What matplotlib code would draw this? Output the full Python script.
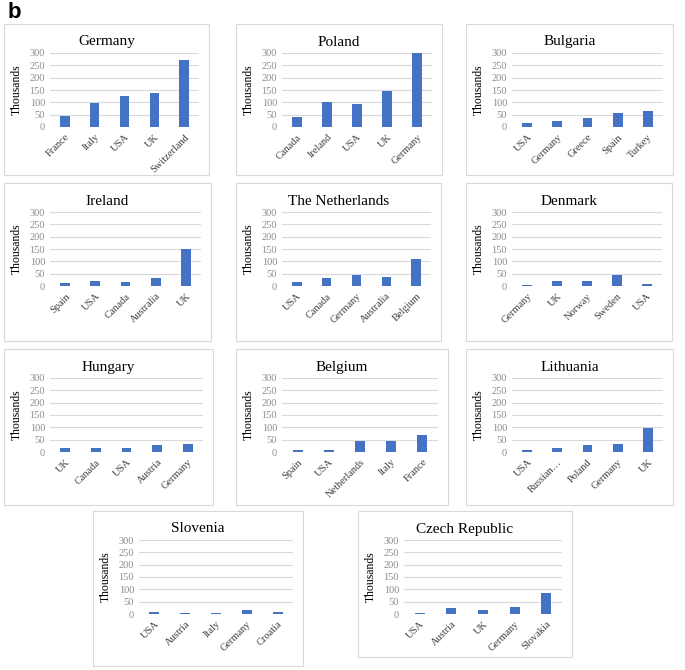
import matplotlib.pyplot as plt
from matplotlib.patches import Rectangle

plt.rcParams['font.family'] = ['Liberation Serif', 'DejaVu Serif']

W, H = 685, 670

# data (thousands)
germany_cats = ['France', 'Italy', 'USA', 'UK', 'Switzerland']
germany_vals = [43, 96, 125, 137, 272]
poland_cats = ['Canada', 'Ireland', 'USA', 'UK', 'Germany']
poland_vals = [40, 103, 93, 147, 302]
bulgaria_cats = ['USA', 'Germany', 'Greece', 'Spain', 'Turkey']
bulgaria_vals = [17, 25, 37, 58, 66]
ireland_cats = ['Spain', 'USA', 'Canada', 'Australia', 'UK']
ireland_vals = [13, 19, 16, 31, 152]
netherlands_cats = ['USA', 'Canada', 'Germany', 'Australia', 'Belgium']
netherlands_vals = [16, 34, 46, 37, 110]
denmark_cats = ['Germany', 'UK', 'Norway', 'Sweden', 'USA']
denmark_vals = [4, 19, 22, 43, 8]
hungary_cats = ['UK', 'Canada', 'USA', 'Austria', 'Germany']
hungary_vals = [15, 18, 18, 28, 31]
belgium_cats = ['Spain', 'USA', 'Netherlands', 'Italy', 'France']
belgium_vals = [10, 10, 43, 43, 67]
lithuania_cats = ['USA', 'Russian…', 'Poland', 'Germany', 'UK']
lithuania_vals = [10, 16, 27, 31, 96]
slovenia_cats = ['USA', 'Austria', 'Italy', 'Germany', 'Croatia']
slovenia_vals = [7, 6, 6, 15, 9]
czech_cats = ['USA', 'Austria', 'UK', 'Germany', 'Slovakia']
czech_vals = [6, 25, 16, 28, 84]

yticks = [0, 50, 100, 150, 200, 250, 300]

# name, categories, values, box in pixels (x0, y0, x1, y1)
panels = [
    ('Germany', germany_cats, germany_vals, (4, 24, 209, 175)),
    ('Poland', poland_cats, poland_vals, (236, 24, 442, 175)),
    ('Bulgaria', bulgaria_cats, bulgaria_vals, (466, 24, 673, 175)),
    ('Ireland', ireland_cats, ireland_vals, (4, 183, 211, 341)),
    ('The Netherlands', netherlands_cats, netherlands_vals, (236, 183, 441, 341)),
    ('Denmark', denmark_cats, denmark_vals, (466, 183, 672, 341)),
    ('Hungary', hungary_cats, hungary_vals, (4, 349, 213, 505)),
    ('Belgium', belgium_cats, belgium_vals, (236, 349, 448, 505)),
    ('Lithuania', lithuania_cats, lithuania_vals, (466, 349, 673, 505)),
    ('Slovenia', slovenia_cats, slovenia_vals, (93, 511, 303, 666)),
    ('Czech Republic', czech_cats, czech_vals, (358, 511, 572, 657)),
]

fig = plt.figure(figsize=(W / 100, H / 100), dpi=100)

for name, cats, vals, (x0, y0, x1, y1) in panels:
    # panel frame
    fig.patches.append(Rectangle((x0 / W, 1 - y1 / H), (x1 - x0) / W, (y1 - y0) / H,
                                 transform=fig.transFigure, fill=False,
                                 edgecolor='#d9d9d9', linewidth=0.8))
    left, right = x0 + 46, x1 - 10
    top, bottom = y0 + 29, y0 + 103
    ax = fig.add_axes([left / W, 1 - bottom / H, (right - left) / W, (bottom - top) / H])
    ax.bar(range(len(cats)), vals, width=0.32, color='#4472c4', zorder=3)
    ax.set_xlim(-0.5, len(cats) - 0.5)
    ax.set_ylim(0, 300)
    ax.set_yticks(yticks)
    ax.set_yticklabels([str(t) for t in yticks], fontsize=7.5, color='#8c8c8c')
    ax.set_xticks(range(len(cats)))
    ax.set_xticklabels(cats, fontsize=7.5, color='#404040', rotation=45,
                       ha='right', rotation_mode='anchor')
    ax.tick_params(axis='y', length=0, pad=3.5)
    ax.tick_params(axis='x', length=0, pad=4)
    ax.grid(axis='y', color='#d9d9d9', linewidth=0.8, zorder=0)
    for s in ax.spines.values():
        s.set_visible(False)
    fig.text((x0 + x1) / 2 / W, 1 - (y0 + 18) / H, name, fontsize=11,
             ha='center', va='center')
    fig.text((x0 + 13) / W, 1 - (top + bottom) / 2 / H, 'Thousands', fontsize=8.5,
             rotation=90, ha='center', va='center')

fig.text(8 / W, 1 - 12 / H, 'b', fontsize=16, fontweight='bold',
         family='Liberation Sans', ha='left', va='center')

fig.savefig('out.png', dpi=100)
